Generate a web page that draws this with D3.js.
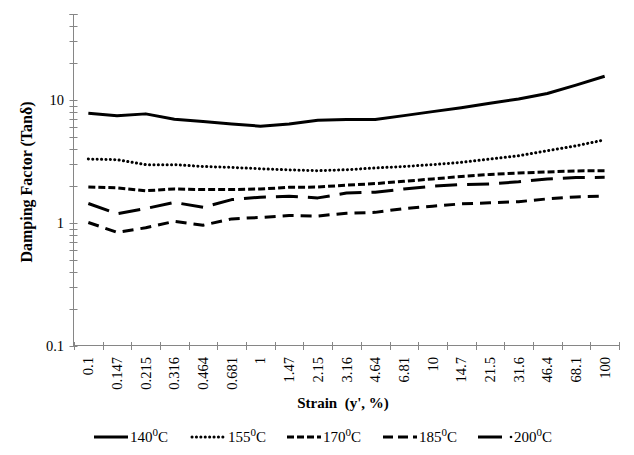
<!DOCTYPE html>
<html>
<head>
<meta charset="utf-8">
<script src="https://cdn.jsdelivr.net/npm/d3@7"></script>
<style>
  body { margin: 0; background: #fff; }
  text { font-family: "Liberation Serif", "Times New Roman", serif; fill: #000; }
</style>
</head>
<body>
<svg id="chart"></svg>
<script>
// strain categories (x axis, %)
const strain = ['0.1', '0.147', '0.215', '0.316', '0.464', '0.681', '1', '1.47', '2.15', '3.16',
	'4.64', '6.81', '10', '14.7', '21.5', '31.6', '46.4', '68.1', '100'];

// damping factor (tan delta) per temperature
const t140 = [7.8, 7.46, 7.71, 6.98, 6.67, 6.39, 6.12, 6.39, 6.85, 6.95, 6.93, 7.46, 8.04, 8.66, 9.4, 10.2, 11.3, 13.2, 15.6];
const t155 = [3.31, 3.27, 2.98, 2.98, 2.88, 2.83, 2.76, 2.70, 2.66, 2.71, 2.80, 2.88, 2.98, 3.11, 3.31, 3.52, 3.87, 4.24, 4.74];
const t170 = [1.96, 1.93, 1.83, 1.89, 1.87, 1.87, 1.89, 1.95, 1.96, 2.03, 2.09, 2.18, 2.28, 2.39, 2.48, 2.55, 2.60, 2.65, 2.66];
const t185 = [1.01, 0.84, 0.914, 1.03, 0.96, 1.08, 1.11, 1.15, 1.14, 1.2, 1.22, 1.31, 1.37, 1.43, 1.46, 1.49, 1.57, 1.63, 1.65];
const t200 = [1.44, 1.19, 1.31, 1.47, 1.34, 1.55, 1.62, 1.65, 1.60, 1.75, 1.78, 1.89, 1.99, 2.05, 2.08, 2.16, 2.28, 2.34, 2.35];

const temps = ['140', '155', '170', '185', '200'];
const yMajor = [0.1, 1, 10];

const width = 634;
const height = 455;
const axisGrey = '#868686';

const series = [
	{ name: temps[0], values: t140, dash: null },
	{ name: temps[1], values: t155, dash: '0.1,4.3', cap: 'round' },
	{ name: temps[2], values: t170, dash: '7,3' },
	{ name: temps[3], values: t185, dash: '11,7' },
	{ name: temps[4], values: t200, dash: '22,10' },
];

const svg = d3.select('#chart').attr('width', width)
	.attr('height', height);

svg.append('rect').attr('width', width)
	.attr('height', height)
	.attr('fill', '#fff');

const x = d3.scaleBand().domain(strain)
	.range([74, 619]);
const y = d3.scaleLog().domain([0.1, 50])
	.range([346, 14]);

// minor + major ticks on the log axis
const yTicks = [];
[0.1, 1, 10].forEach((dec) => {
	for (let k = 1; k < 10; k++) {
		const v = dec * k;
		if (v <= 50) yTicks.push(v);
	}
});
yTicks.push(50);

const yAxis = svg.append('g');
yAxis.append('line')
	.attr('x1', 73.5).attr('x2', 73.5)
	.attr('y1', y(50)).attr('y2', y(0.1))
	.attr('stroke', axisGrey);
yAxis.selectAll('line.tick')
	.data(yTicks)
	.join('line')
	.attr('class', 'tick')
	.attr('x1', 69.5).attr('x2', 77.5)
	.attr('y1', (d) => Math.round(y(d)) + 0.5)
	.attr('y2', (d) => Math.round(y(d)) + 0.5)
	.attr('stroke', axisGrey);
yAxis.selectAll('text')
	.data(yMajor)
	.join('text')
	.attr('x', 64)
	.attr('y', (d) => y(d) + 5)
	.attr('text-anchor', 'end')
	.attr('font-size', '14.5px')
	.text((d) => d);

// category axis with ticks between categories
const xEdges = strain.map((d) => x(d)).concat([x.range()[1]]);
const xAxis = svg.append('g');
xAxis.append('line')
	.attr('x1', 73.5).attr('x2', 619.5)
	.attr('y1', 345.5).attr('y2', 345.5)
	.attr('stroke', axisGrey);
xAxis.selectAll('line.tick')
	.data(xEdges)
	.join('line')
	.attr('class', 'tick')
	.attr('x1', (d) => Math.round(d) + 0.5)
	.attr('x2', (d) => Math.round(d) + 0.5)
	.attr('y1', 342)
	.attr('y2', 350)
	.attr('stroke', axisGrey);
xAxis.selectAll('text')
	.data(strain)
	.join('text')
	.attr('transform', (d) => `translate(${ x(d) + x.bandwidth() / 2 + 5 },357) rotate(-90)`)
	.attr('text-anchor', 'end')
	.attr('font-size', '14.5px')
	.text((d) => d);

// axis titles
svg.append('text')
	.attr('transform', 'translate(32,182) rotate(-90)')
	.attr('text-anchor', 'middle')
	.attr('font-size', '16px')
	.attr('font-weight', 'bold')
	.text('Damping Factor (Tanδ)');

svg.append('text')
	.attr('x', 343)
	.attr('y', 408)
	.attr('text-anchor', 'middle')
	.attr('font-size', '15px')
	.attr('font-weight', 'bold')
	.attr('xml:space', 'preserve')
	.text('Strain  (y\', %)');

// lines
const line = d3.line()
	.x((d, i) => x(strain[i]) + x.bandwidth() / 2)
	.y((d) => y(d));

svg.append('g').selectAll('path')
	.data(series)
	.join('path')
	.attr('d', (d) => line(d.values))
	.attr('fill', 'none')
	.attr('stroke', '#000')
	.attr('stroke-width', 3)
	.attr('stroke-linecap', (d) => d.cap || 'butt')
	.attr('stroke-linejoin', 'round')
	.attr('stroke-dasharray', (d) => d.dash);

// legend
const legendX = [94, 192, 287, 383, 478];
const legend = svg.append('g').selectAll('g')
	.data(series)
	.join('g')
	.attr('transform', (d, i) => `translate(${ legendX[i] },437)`);

legend.append('line')
	.attr('x1', 0)
	.attr('x2', (d, i) => (i === 4 ? 24 : 34))
	.attr('y1', 0)
	.attr('y2', 0)
	.attr('stroke', '#000')
	.attr('stroke-width', 3)
	.attr('stroke-linecap', (d) => d.cap || 'butt')
	.attr('stroke-dasharray', (d, i) => (i === 3 ? '10,5' : (i === 4 ? null : d.dash)));

legend.filter((d, i) => i === 4).append('circle')
	.attr('cx', 33)
	.attr('cy', 0)
	.attr('r', 1.3)
	.attr('fill', '#000');

const legendText = legend.append('text')
	.attr('x', 36)
	.attr('y', 5)
	.attr('font-size', '15px');
legendText.append('tspan').text((d) => d.name);
legendText.append('tspan')
	.attr('dy', -6)
	.attr('font-size', '11px')
	.text('0');
legendText.append('tspan')
	.attr('dy', 6)
	.text('C');
</script>
</body>
</html>
